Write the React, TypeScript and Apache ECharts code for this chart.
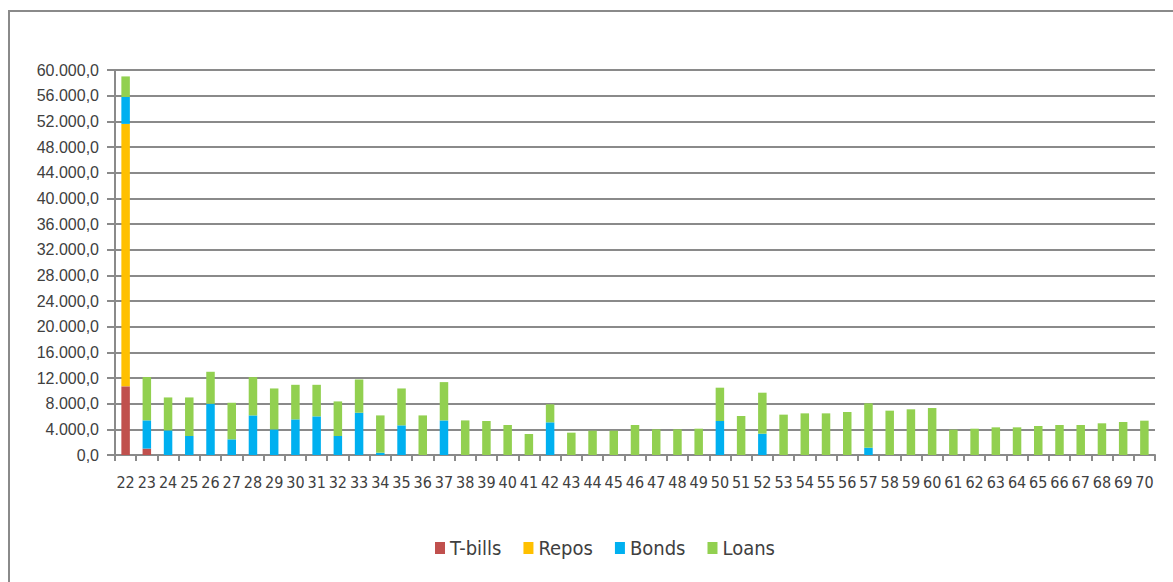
import React, { useEffect, useRef } from "react";
import * as echarts from "echarts";

const categories = [
  "22","23","24","25","26","27","28","29","30","31","32","33","34","35","36","37","38","39","40","41",
  "42","43","44","45","46","47","48","49","50","51","52","53","54","55","56","57","58","59","60","61",
  "62","63","64","65","66","67","68","69","70",
];

const tbills = [
  10700, 1000, 0, 0, 0, 0, 0, 0, 0, 0, 0, 0, 0, 0, 0, 0, 0, 0, 0, 0,
  0, 0, 0, 0, 0, 0, 0, 0, 0, 0, 0, 0, 0, 0, 0, 0, 0, 0, 0, 0,
  0, 0, 0, 0, 0, 0, 0, 0, 0,
];

const repos = [
  40900, 0, 0, 0, 0, 0, 0, 0, 0, 0, 0, 0, 0, 0, 0, 0, 0, 0, 0, 0,
  0, 0, 0, 0, 0, 0, 0, 0, 0, 0, 0, 0, 0, 0, 0, 0, 0, 0, 0, 0,
  0, 0, 0, 0, 0, 0, 0, 0, 0,
];

const bonds = [
  4200, 4400, 3840, 2960, 7990, 2440, 6170, 3990, 5550, 6020, 2960, 6590, 360, 4620, 0, 5390, 0, 0, 0, 0,
  5090, 0, 0, 0, 0, 0, 0, 0, 5300, 0, 3320, 0, 0, 0, 0, 1140, 0, 0, 0, 0,
  0, 0, 0, 0, 0, 0, 0, 0, 0,
];

const loans = [
  3200, 6750, 5130, 6010, 4980, 5700, 5970, 6380, 5390, 4920, 5390, 5180, 5810, 5750, 6170, 5970, 5390, 5300, 4680, 3270,
  2810, 3480, 3790, 3790, 4680, 4000, 4000, 4100, 5190, 6080, 6390, 6290, 6490, 6490, 6700, 6910, 6910, 7120, 7320, 3950,
  4100, 4310, 4310, 4520, 4680, 4680, 4940, 5140, 5350,
];

const seriesNames = ["T-bills", "Repos", "Bonds", "Loans"];
const seriesColors = ["#C0504D", "#FFC000", "#00B0F0", "#92D050"];

const narrow = "'DejaVu Sans Condensed', 'Liberation Sans', sans-serif";

function fmt(v: number): string {
  const s = Math.round(v).toString();
  const withDots = s.replace(/\B(?=(\d{3})+(?!\d))/g, ".");
  return withDots + ",0";
}

export default function App() {
  const ref = useRef<HTMLDivElement>(null);
  useEffect(() => {
    if (!ref.current) return;
    const chart = echarts.init(ref.current, null, { renderer: "svg" });
    const dataSets = [tbills, repos, bonds, loans];
    chart.setOption({
      animation: false,
      backgroundColor: "#ffffff",
      grid: { left: 115, top: 70, right: 18, bottom: 127, containLabel: false },
      graphic: [
        {
          type: "rect",
          shape: { x: 9, y: 11, width: 1200, height: 620 },
          style: { fill: "none", stroke: "#8a8a8a", lineWidth: 2 },
          silent: true,
        },
      ],
      legend: {
        left: 430,
        top: 533,
        icon: "rect",
        itemWidth: 10,
        itemHeight: 12,
        itemGap: 22,
        textStyle: { fontFamily: narrow, fontSize: 20, color: "#404040" },
        data: seriesNames,
      },
      xAxis: {
        type: "category",
        data: categories,
        boundaryGap: true,
        axisLine: { show: true, lineStyle: { color: "#8a8a8a", width: 2 } },
        axisTick: { show: true, interval: 0, length: 6, lineStyle: { color: "#8a8a8a", width: 2 } },
        axisLabel: {
          interval: 0,
          margin: 19,
          fontFamily: narrow,
          fontSize: 16,
          color: "#404040",
        },
      },
      yAxis: {
        type: "value",
        min: 0,
        max: 60000,
        interval: 4000,
        axisLine: { show: true, lineStyle: { color: "#8a8a8a", width: 2 } },
        axisTick: { show: true, length: 8, lineStyle: { color: "#8a8a8a", width: 2 } },
        splitLine: { show: true, lineStyle: { color: "#8a8a8a", width: 2 } },
        axisLabel: {
          margin: 16,
          fontFamily: "'Liberation Sans', sans-serif",
          fontSize: 16,
          color: "#404040",
          formatter: (v: number) => fmt(v),
        },
      },
      series: seriesNames.map((name, i) => ({
        name,
        type: "bar",
        stack: "total",
        barWidth: 8.5,
        itemStyle: { color: seriesColors[i] },
        data: dataSets[i],
      })),
    });
    return () => chart.dispose();
  }, []);
  return (
    <div
      ref={ref}
      style={{ position: "fixed", left: 0, top: 0, width: 1173, height: 582 }}
    />
  );
}
